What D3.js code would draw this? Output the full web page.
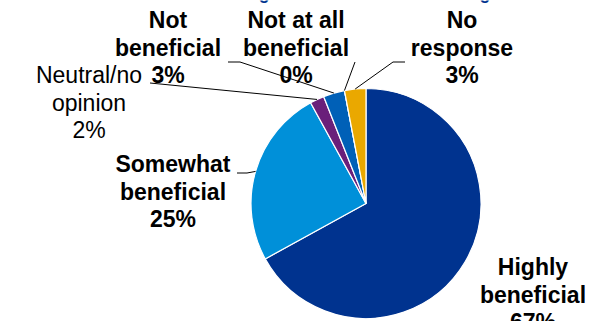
<!DOCTYPE html>
<html>
<head>
<meta charset="utf-8">
<script src="https://cdn.jsdelivr.net/npm/d3@7"></script>
<style>
  html, body { margin: 0; padding: 0; background: #fff; }
  svg { display: block; }
  text { font-family: "Liberation Sans", Arial, sans-serif; }
</style>
</head>
<body>
<script>
// Survey responses, clockwise from 12 o'clock
const categories = ["Highly beneficial", "Somewhat beneficial", "Neutral/no opinion", "Not beneficial", "Not at all beneficial", "No response"];
const values = [67, 25, 2, 3, 0, 3];
const colors = ["#00338f", "#0090d9", "#6a1f7a", "#0060b7", "#0060b7", "#eaa800"];
// Label text lines (category name split for wrapping)
const labelLines = [
  ["Highly", "beneficial"],
  ["Somewhat", "beneficial"],
  ["Neutral/no", "opinion"],
  ["Not", "beneficial"],
  ["Not at all", "beneficial"],
  ["No", "response"]
];
const labelBold = [true, true, false, true, true, true];
const titleText = "Rating of the Benefits of Training";

const W = 592, H = 321;
const cx = 366, cy = 203.5, R = 115;

const svg = d3.select("body").append("svg").attr("width", W).attr("height", H);

// Title sits above the frame; only descenders show
svg.append("defs").append("clipPath").attr("id", "titleClip")
  .append("rect").attr("x", 0).attr("y", 0.5).attr("width", W).attr("height", 10);
svg.append("text")
  .attr("clip-path", "url(#titleClip)")
  .attr("x", 215).attr("y", -1.2)
  .attr("font-size", 17.5).attr("font-weight", "bold")
  .attr("fill", "#00338f")
  .text(titleText);

const pie = d3.pie().sort(null).value(d => d)(values);
const arc = d3.arc().innerRadius(0).outerRadius(R);

const g = svg.append("g").attr("transform", `translate(${cx},${cy})`);
g.selectAll("path").data(pie).join("path")
  .attr("d", arc)
  .attr("fill", (d, i) => colors[i])
  .attr("stroke", "#fff").attr("stroke-width", 1.2);

// Label anchors (block centre x, first baseline y) and leader elbows
const labelPos = [
  { x: 533, y: 275, leader: null },
  { x: 173, y: 172, leader: [[237, 173], [247, 173]] },
  { x: 89, y: 83, leader: [[150, 83]] },
  { x: 168, y: 28, leader: [[228, 62], [240, 62]] },
  { x: 296, y: 28, leader: [[355, 62]] },
  { x: 462, y: 28, leader: [[405, 62], [393, 62]] }
];
const lineH = 27.5;

// Point on the rim at a slice's angle
function rimPoint(d, i) {
  const a = values[i] === 0 ? d.startAngle : (d.startAngle + d.endAngle) / 2;
  return [cx + R * Math.sin(a), cy - R * Math.cos(a)];
}

const line = d3.line();
pie.forEach((d, i) => {
  const p = labelPos[i];
  if (p.leader) {
    const pts = p.leader.concat([rimPoint(d, i)]);
    svg.append("path").attr("d", line(pts))
      .attr("fill", "none").attr("stroke", "#000").attr("stroke-width", 1);
  }
});

pie.forEach((d, i) => {
  const p = labelPos[i];
  const t = svg.append("text")
    .attr("text-anchor", "middle")
    .attr("font-size", 23)
    .attr("font-weight", labelBold[i] ? "bold" : "normal")
    .attr("fill", "#000");
  const lines = labelLines[i].concat([values[i] + "%"]);
  lines.forEach((s, k) => {
    t.append("tspan").attr("x", p.x).attr("y", p.y + k * lineH).text(s);
  });
});
</script>
</body>
</html>
